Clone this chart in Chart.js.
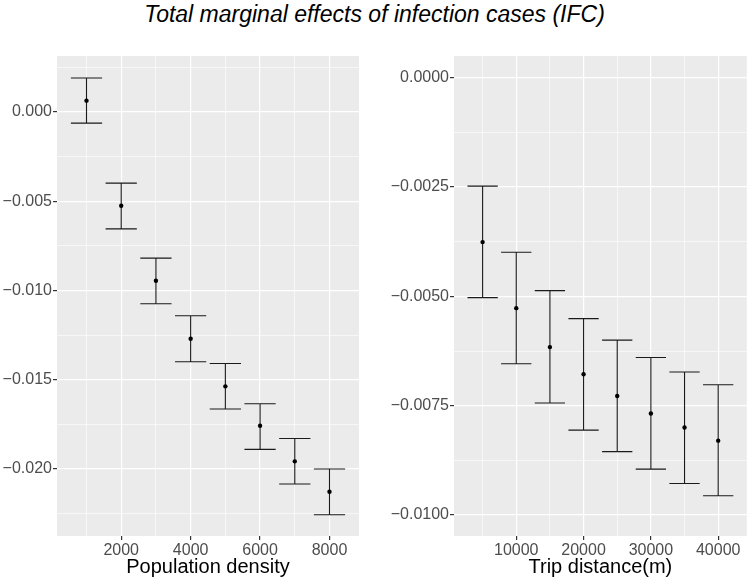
<!DOCTYPE html>
<html>
<head>
<meta charset="utf-8">
<title>Total marginal effects of infection cases (IFC)</title>
<style>
    body { margin: 0; background: #ffffff; }
    #page { position: relative; width: 749px; height: 581px; font-family: "Liberation Sans", Arial, sans-serif; }
    #maintitle {
        position: absolute; left: 0; top: 3px; width: 749px;
        text-align: center; font-style: italic; font-size: 23px; line-height: 23px; color: #000;
    }
    .box { position: absolute; top: 40px; height: 541px; }
    #leftbox { left: 0; width: 370px; }
    #rightbox { left: 370px; width: 379px; }
</style>
</head>
<body>
<div id="page">
    <div id="maintitle">Total marginal effects of infection cases (IFC)</div>
    <div class="box" id="leftbox"><canvas id="densityChart"></canvas></div>
    <div class="box" id="rightbox"><canvas id="tripChart"></canvas></div>
</div>

<script src="https://cdn.jsdelivr.net/npm/chart.js@4.4.0/dist/chart.umd.min.js"></script>
<script>
    // population density panel
    const densityX = [1000, 2000, 3000, 4000, 5000, 6000, 7000, 8000]
    const densityEst = [0.00063, -0.00526, -0.00946, -0.01270, -0.01537, -0.01758, -0.01957, -0.02127]
    const densityLow = [-0.00063, -0.00655, -0.01074, -0.01399, -0.01664, -0.01890, -0.02084, -0.02256]
    const densityHigh = [0.00190, -0.00399, -0.00819, -0.01142, -0.01409, -0.01634, -0.01829, -0.02000]
    const densityXTicks = [2000, 4000, 6000, 8000]
    const densityXMinor = [1000, 3000, 5000, 7000]
    const densityYTicks = [0, -0.005, -0.010, -0.015, -0.020]
    const densityYMinor = [0.0025, -0.0025, -0.0075, -0.0125, -0.0175, -0.0225]

    // trip distance panel
    const tripX = [5000, 10000, 15000, 20000, 25000, 30000, 35000, 40000]
    const tripEst = [-0.00376, -0.00527, -0.00616, -0.00678, -0.00728, -0.00768, -0.00800, -0.00830]
    const tripLow = [-0.00503, -0.00654, -0.00744, -0.00806, -0.00855, -0.00895, -0.00928, -0.00956]
    const tripHigh = [-0.00248, -0.00399, -0.00487, -0.00551, -0.00600, -0.00640, -0.00673, -0.00702]
    const tripXTicks = [10000, 20000, 30000, 40000]
    const tripXMinor = [5000, 15000, 25000, 35000]
    const tripYTicks = [0, -0.0025, -0.0050, -0.0075, -0.0100]
    const tripYMinor = [-0.00125, -0.00375, -0.00625, -0.00875]

    const tickFont = { family: "Liberation Sans", size: 16 }
    const tickColor = '#4d4d4d'

    function isIn(list, v) {
        for (let i = 0; i < list.length; i++) {
            if (Math.abs(list[i] - v) < 1e-9) return true
        }
        return false
    }

    function minusSign(s) {
        return s.replace('-', '\u2212')
    }

    // grey panel + error bars, ggplot style
    const ggPanel = {
        id: 'ggPanel',
        beforeDraw(chart) {
            const a = chart.chartArea
            const c = chart.ctx
            c.save()
            c.fillStyle = '#ebebeb'
            c.fillRect(a.left, a.top, a.right - a.left, a.bottom - a.top)
            c.restore()
        },
        beforeDatasetsDraw(chart) {
            const ds = chart.data.datasets[0]
            const xs = chart.scales.x
            const ys = chart.scales.y
            const c = chart.ctx
            c.save()
            c.strokeStyle = '#1a1a1a'
            c.lineWidth = 1.1
            for (let i = 0; i < ds.data.length; i++) {
                const x = ds.data[i].x
                const px = xs.getPixelForValue(x)
                const x0 = xs.getPixelForValue(x - ds.capHalf)
                const x1 = xs.getPixelForValue(x + ds.capHalf)
                const yl = ys.getPixelForValue(ds.low[i])
                const yh = ys.getPixelForValue(ds.high[i])
                c.beginPath()
                c.moveTo(px, yl); c.lineTo(px, yh)
                c.moveTo(x0, yl); c.lineTo(x1, yl)
                c.moveTo(x0, yh); c.lineTo(x1, yh)
                c.stroke()
            }
            c.restore()
        }
    }

    function makeAxis(major, minor, min, max, fmt, extra) {
        const axis = {
            type: 'linear',
            min: min,
            max: max,
            afterBuildTicks: function(scale) {
                scale.ticks = major.concat(minor).sort((a, b) => a - b).map(v => ({ value: v }))
            },
            ticks: {
                autoSkip: false,
                maxRotation: 0,
                color: tickColor,
                font: tickFont,
                padding: 1,
                callback: function(value) {
                    if (isIn(minor, value)) return ''
                    return fmt(value)
                }
            },
            grid: {
                color: '#ffffff',
                lineWidth: ctx => (ctx.tick && isIn(minor, ctx.tick.value)) ? 0.6 : 1.2,
                tickColor: ctx => (ctx.tick && isIn(minor, ctx.tick.value)) ? 'rgba(0,0,0,0)' : '#333333',
                tickLength: 4,
                drawTicks: true
            },
            border: { display: false }
        }
        return Object.assign(axis, extra)
    }

    function drawPanel(canvasId, xs, est, low, high, capHalf, xAxis, yAxis, padRight) {
        const points = []
        for (let i = 0; i < xs.length; i++) points.push({ x: xs[i], y: est[i] })
        return new Chart(document.getElementById(canvasId), {
            type: 'scatter',
            data: {
                datasets: [{
                    data: points,
                    low: low,
                    high: high,
                    capHalf: capHalf,
                    pointRadius: 2.2,
                    pointHoverRadius: 2.2,
                    backgroundColor: '#000000',
                    borderWidth: 0
                }]
            },
            options: {
                responsive: true,
                maintainAspectRatio: false,
                animation: false,
                layout: { padding: { top: 16, right: padRight, left: 0, bottom: 0 } },
                plugins: { legend: { display: false }, tooltip: { enabled: false } },
                scales: { x: xAxis, y: yAxis }
            },
            plugins: [ggPanel]
        })
    }

    drawPanel('densityChart', densityX, densityEst, densityLow, densityHigh, 450,
        makeAxis(densityXTicks, densityXMinor, 150, 8850, v => String(v), {
            afterFit: s => { s.height = 45 },
            title: { display: true, text: 'Population density', color: '#000', font: { family: "Liberation Sans", size: 20 }, padding: { top: 0, bottom: 2 } }
        }),
        makeAxis(densityYTicks, densityYMinor, -0.02375, 0.00313, v => minusSign(v.toFixed(3)), {
            afterFit: s => { s.width = 57 }
        }),
        11)

    drawPanel('tripChart', tripX, tripEst, tripLow, tripHigh, 2250,
        makeAxis(tripXTicks, tripXMinor, 750, 44250, v => String(v), {
            afterFit: s => { s.height = 45 },
            title: { display: true, text: 'Trip distance(m)', color: '#000', font: { family: "Liberation Sans", size: 20 }, padding: { top: 0, bottom: 2 } }
        }),
        makeAxis(tripYTicks, tripYMinor, -0.01048, 0.000496, v => minusSign(v.toFixed(4)), {
            afterFit: s => { s.width = 84 }
        }),
        2)
</script>
</body>
</html>
